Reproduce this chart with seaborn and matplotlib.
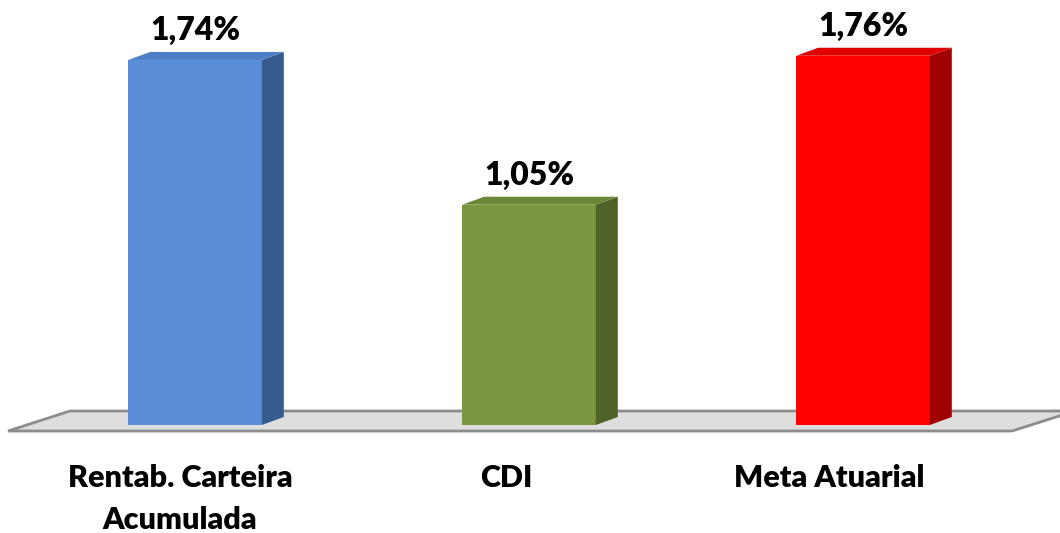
import numpy as np
import pandas as pd
import seaborn as sns
from matplotlib import pyplot as plt
from matplotlib.patches import Polygon

# dados do gráfico
categorias = ['Rentab. Carteira\nAcumulada', 'CDI', 'Meta Atuarial']
valores = [1.74, 1.05, 1.76]
rotulos = ['1,74%', '1,05%', '1,76%']

cores_frente = ['#5B8ED8', '#7A963E', '#FF0000']
cores_topo = ['#4E7FC6', '#6C8735', '#E00000']
cores_lado = ['#365B8C', '#4F6228', '#A00000']

sns.set_theme(style='white')
plt.rcParams['font.family'] = ['Lato', 'DejaVu Sans']

W, H = 1060, 533
fig = plt.figure(figsize=(W / 100, H / 100), dpi=100)
# eixo: base das barras em y=425 px, 209.8 px por unidade
ax = fig.add_axes([0, (H - 425) / H, 1, 2.0 * 209.8 / H])
ax.patch.set_alpha(0)

df = pd.DataFrame({'categoria': categorias, 'valor': valores})
sns.barplot(data=df, x='categoria', y='valor', hue='categoria', palette=cores_frente,
            width=0.4, legend=False, ax=ax, saturation=1, linewidth=0, zorder=3)

ax.set_xlim(-195 / 334, (W - 195) / 334)
ax.set_ylim(0, 2.0)
ax.axis('off')

# piso cinza (coordenadas em pixels da figura)
piso = [(8, 431), (70, 411), (1075, 411), (1012, 431)]
piso = [(x / W, 1 - y / H) for x, y in piso]
ax.add_patch(Polygon(piso, closed=True, transform=fig.transFigure, clip_on=False,
                     facecolor='#DEDEDE', edgecolor='#8C8C8C', lw=2, zorder=1))

# profundidade 3D em unidades de dados
dx = 22 / 334
dy = 8 / 209.8

for i, p in enumerate(ax.patches[:len(valores)]):
    x0 = p.get_x()
    x1 = x0 + p.get_width()
    h = p.get_height()
    p.set_clip_on(False)
    lado = [(x1, 0), (x1 + dx, dy), (x1 + dx, h + dy), (x1, h)]
    topo = [(x0, h), (x0 + dx, h + dy), (x1 + dx, h + dy), (x1, h)]
    ax.add_patch(Polygon(lado, closed=True, facecolor=cores_lado[i], edgecolor='none', zorder=3))
    ax.add_patch(Polygon(topo, closed=True, facecolor=cores_topo[i], edgecolor='none', zorder=3))
    ax.annotate(rotulos[i], (x0 + p.get_width() / 2, h), xytext=(0, 14.5),
                textcoords='offset points', ha='center', va='baseline',
                fontsize=23, fontweight='heavy', color='black', clip_on=False)

# rótulos das categorias
desloc = [-15, -23, -34]
for i, nome in enumerate(categorias):
    ax.annotate(nome, (i, 0), xytext=(desloc[i] * 0.72, -39 * 0.72),
                textcoords='offset points', ha='center', va='top',
                fontsize=22, fontweight='heavy', color='black',
                linespacing=1.6, annotation_clip=False,
                multialignment='center')

fig.savefig('out.png', dpi=100)
